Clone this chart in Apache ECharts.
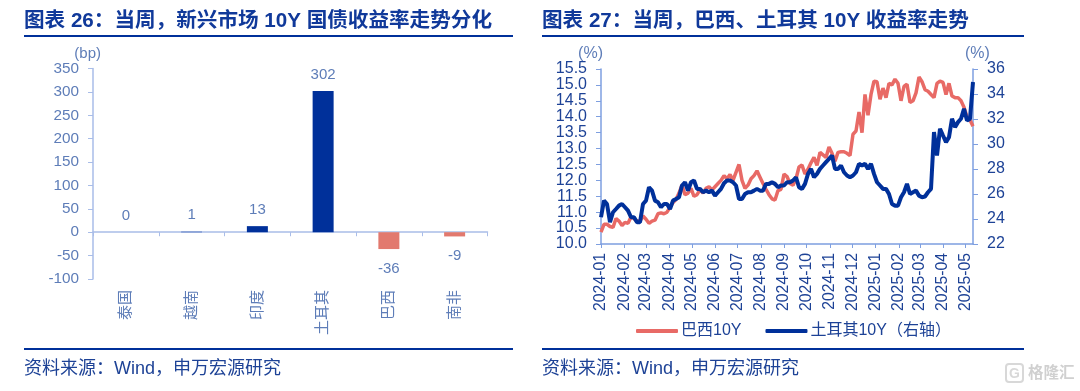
<!DOCTYPE html>
<html>
<head>
<meta charset="utf-8">
<style>
  html, body { margin:0; padding:0; background:#fff; }
  #chart { width:1080px; height:391px; }
</style>
<script src="https://cdn.jsdelivr.net/npm/echarts@6/dist/echarts.min.js"></script>
</head>
<body>
<div id="chart"></div>
<script>
// ===== Data =====
const barCategories = ['泰国','越南','印度','土耳其','巴西','南非'];
const barValues     = [0, 1, 13, 302, -36, -9];

// one reading every 4 days from 2024-01-01
const brazil10y = [
  10.37,10.62,10.62,10.55,10.52,10.8,10.72,10.58,10.68,10.65,10.85,10.8,10.72,10.72,10.88,10.78,
  10.65,10.72,10.75,10.95,10.98,10.95,11.0,11.15,11.3,11.4,11.6,11.85,11.55,11.6,11.75,11.5,
  11.55,11.7,11.6,11.75,11.8,11.7,11.8,11.9,12.0,12.15,12.05,12.18,12.0,12.25,12.5,12.0,
  11.75,11.85,12.05,12.15,12.3,
  12.1,11.9,11.72,11.55,11.42,11.38,11.68,11.72,12.2,12.12,11.9,11.85,12.05,12.42,12.48,12.2,
  12.35,12.55,12.72,12.47,12.88,12.8,12.72,13.05,12.85,12.6,12.88,12.9,12.9,12.85,12.78,13.45,
  13.55,14.15,13.5,14.7,14.05,14.7,15.12,15.1,14.55,14.9,14.6,15.05,15.0,15.18,15.05,14.5,
  14.95,15.02,14.45,14.5,14.75,15.25,15.1,14.85,14.8,14.7,14.6,15.05,15.12,15.08,14.7,15.05,
  14.65,14.6,14.6,14.5,14.3,14.0,13.9,13.7
];
const turkey10y = [
  24.14,25.47,25.2,23.74,24.54,24.8,25.07,25.2,24.94,24.67,24.14,24.14,23.74,23.74,25.2,25.47,
  26.54,26.27,25.47,25.34,24.94,25.2,25.2,24.8,25.47,25.6,25.74,26.68,26.94,26.27,26.94,27.08,
  26.41,26.41,26.14,26.27,26.14,26.27,25.87,26.14,26.41,26.86,27.08,27.08,26.94,26.68,25.6,25.6,
  26.0,26.14,26.14,26.27,26.41,
  26.27,26.27,26.81,26.81,26.94,26.81,26.54,26.68,26.68,26.94,26.94,27.08,27.34,26.54,26.41,26.81,
  27.61,28.01,27.34,27.61,28.01,28.28,28.55,28.81,29.08,28.01,28.01,28.28,27.74,27.48,27.34,27.48,
  27.74,28.41,28.28,28.41,28.01,28.41,27.61,26.94,26.68,26.41,26.41,26.0,25.2,25.07,25.07,25.74,
  26.14,26.81,26.0,26.14,26.27,25.87,25.74,25.8,26.14,26.41,30.95,29.08,31.22,30.68,30.15,30.55,
  32.02,31.35,31.75,32.02,32.82,31.88,32.02,34.96
];
const startDay = new Date(2024, 0, 1).getTime();
const dayMs = 86400000;
const withDates = arr => arr.map((v, i) => [startDay + i * 4 * dayMs, v]);

const navy = '#00309a', salmon = '#e2796e', red = '#e86a66';
const textBlue = '#1d4296', softBlue = '#5e7db8', axisBlue = '#a9bde8', axisBlue2 = '#7e9fe0';
const fontEn = '"Liberation Sans", Arial, "Noto Sans CJK SC", sans-serif';

const heading = (x, y, text) => ({
  type:'text', x, y, style:{ text, fontFamily:fontEn, fontSize:20.6, fontWeight:'bold', fill:'#10399a', textVerticalAlign:'middle' }
});
const source = (x, y) => ({
  type:'text', x, y, style:{ text:'资料来源：Wind，申万宏源研究', fontFamily:fontEn, fontSize:18, fill:'#1d4296', textVerticalAlign:'middle' }
});
const rule = (x1, x2, y, w) => ({
  type:'line', shape:{ x1, y1:y, x2, y2:y }, style:{ stroke:'#00309a', lineWidth:w }
});

const chart = echarts.init(document.getElementById('chart'), null, { renderer:'canvas' });

chart.setOption({
  animation:false,
  backgroundColor:'#fff',
  textStyle:{ fontFamily:fontEn },
  grid:[
    { left:93, right:1080-487.5, top:68.5, bottom:391-279 },
    { left:601, right:1080-973, top:69, bottom:391-244 }
  ],
  xAxis:[
    {
      type:'category', gridIndex:0, data:barCategories,
      axisLine:{ onZero:true, lineStyle:{ color:axisBlue, width:1.5 } },
      axisTick:{ show:true, length:4, lineStyle:{ color:axisBlue } },
      axisLabel:{ rotate:90, margin:11, color:softBlue, fontSize:15, fontFamily:fontEn }
    },
    {
      type:'time', gridIndex:1,
      min:startDay, max:new Date(2025, 4, 11).getTime(),
      minInterval:28*dayMs, maxInterval:31*dayMs,
      splitLine:{ show:false },
      axisLine:{ lineStyle:{ color:axisBlue2, width:1.5 } },
      axisTick:{ show:true, length:4, lineStyle:{ color:axisBlue2 } },
      axisLabel:{ rotate:90, margin:9, color:textBlue, fontSize:15.8, fontFamily:fontEn,
        hideOverlap:false, showMaxLabel:false, formatter:'{yyyy}-{MM}' }
    }
  ],
  yAxis:[
    {
      type:'value', gridIndex:0, min:-100, max:350, interval:50,
      name:'(bp)', nameGap:5, nameTextStyle:{ color:softBlue, fontSize:15, align:'right', padding:[0,-8,0,0] },
      splitLine:{ show:false },
      axisLine:{ show:true, lineStyle:{ color:axisBlue, width:1.5 } },
      axisTick:{ show:true, length:5, lineStyle:{ color:axisBlue } },
      axisLabel:{ color:softBlue, fontSize:15.3, margin:14, fontFamily:fontEn }
    },
    {
      type:'value', gridIndex:1, min:10, max:15.5, interval:0.5,
      name:'(%)', nameGap:2, nameTextStyle:{ color:softBlue, fontSize:16, align:'right', padding:[0,-2,0,0] },
      splitLine:{ show:false },
      axisLine:{ show:true, lineStyle:{ color:axisBlue2, width:1.5 } },
      axisTick:{ show:true, length:5, lineStyle:{ color:axisBlue2 } },
      axisLabel:{ color:textBlue, fontSize:16, margin:14, fontFamily:fontEn, formatter:v => v.toFixed(1) }
    },
    {
      type:'value', gridIndex:1, position:'right', min:22, max:36, interval:2,
      name:'(%)', nameGap:2, nameTextStyle:{ color:softBlue, fontSize:16, align:'left', padding:[0,0,0,-8] },
      splitLine:{ show:false },
      axisLine:{ show:true, lineStyle:{ color:axisBlue2, width:1.5 } },
      axisTick:{ show:true, length:5, lineStyle:{ color:axisBlue2 } },
      axisLabel:{ color:textBlue, fontSize:16, margin:14, fontFamily:fontEn }
    }
  ],
  legend:{
    left:631, top:318, itemWidth:42, itemHeight:4, itemGap:24,
    icon:'roundRect',
    textStyle:{ color:textBlue, fontSize:16, fontFamily:fontEn, padding:[0,0,0,-2] },
    data:['巴西10Y','土耳其10Y（右轴）']
  },
  series:[
    {
      type:'bar', xAxisIndex:0, yAxisIndex:0, barWidth:21,
      data:barValues.map(v => ({
        value:v,
        itemStyle:{ color: v < 0 ? salmon : navy },
        label:{ position: v < 0 ? 'bottom' : 'top', distance: v < 0 ? 12 : 9 }
      })),
      label:{ show:true, color:softBlue, fontSize:15, fontFamily:fontEn }
    },
    {
      name:'巴西10Y', type:'line', xAxisIndex:1, yAxisIndex:1, showSymbol:false,
      data:withDates(brazil10y), lineStyle:{ color:red, width:3.5 }, itemStyle:{ color:red }
    },
    {
      name:'土耳其10Y（右轴）', type:'line', xAxisIndex:1, yAxisIndex:2, showSymbol:false,
      data:withDates(turkey10y), lineStyle:{ color:navy, width:4 }, itemStyle:{ color:navy }
    }
  ],
  graphic:[
    heading(24, 21, '图表 26：当周，新兴市场 10Y 国债收益率走势分化'),
    heading(542, 21, '图表 27：当周，巴西、土耳其 10Y 收益率走势'),
    rule(24, 513, 36, 2),
    rule(542, 1024, 36, 2),
    rule(24, 513, 349, 2),
    rule(542, 1024, 349, 2),
    source(24, 369),
    source(542, 369),
    // watermark, bottom right
    { type:'rect', shape:{ x:1006, y:364, width:17, height:18, r:3 }, style:{ fill:'none', stroke:'#d8d8d8', lineWidth:2 } },
    { type:'text', x:1009, y:374, style:{ text:'G', fontFamily:fontEn, fontSize:14, fontWeight:'bold', fill:'#d8d8d8', textVerticalAlign:'middle' } },
    { type:'text', x:1028, y:374, style:{ text:'格隆汇', fontFamily:fontEn, fontSize:15.5, fontWeight:'bold', fill:'#d0d0d0', textVerticalAlign:'middle' } }
  ]
});
</script>
</body>
</html>
